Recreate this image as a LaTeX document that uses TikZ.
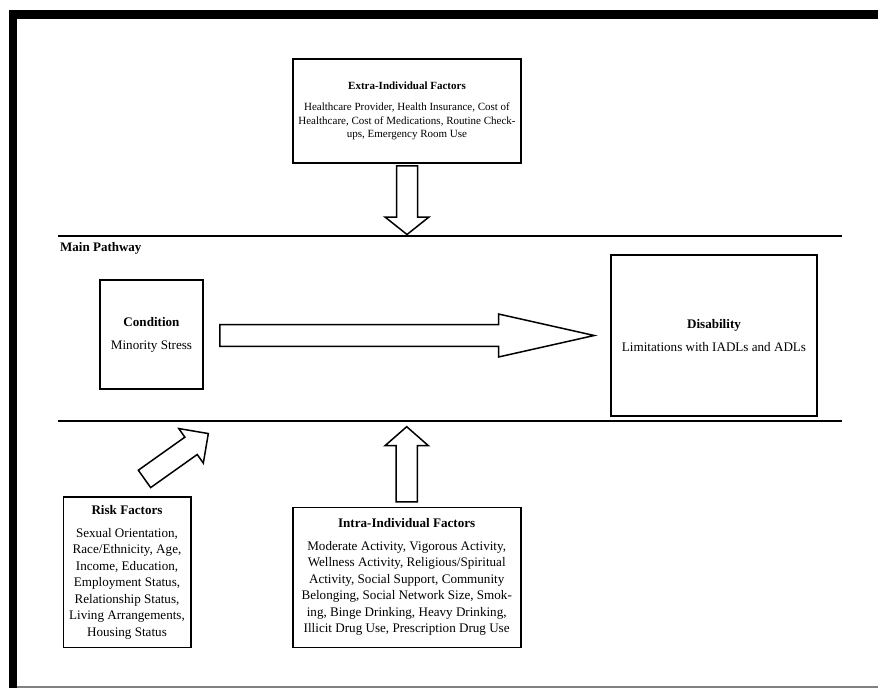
\documentclass[tikz,border=0pt]{standalone}
\usepackage{fontspec}
\setmainfont{Liberation Serif}
\usetikzlibrary{calc}
\newcommand\myBody{\fontsize{13.1}{16.5}\selectfont}
\newcommand\mySmall{\fontsize{11}{13.3}\selectfont}
\begin{document}
\begin{tikzpicture}[x=1pt,y=-1pt,
  box/.style={draw, line width=1.6pt, inner sep=0pt, align=center, font=\myBody},
  smallbox/.style={box, font=\mySmall},
  blockarrow/.style={draw, line width=1.5pt, fill=white, line join=miter},
  pathline/.style={line width=1.6pt},
  frameband/.style={fill=black}]
\useasboundingbox (0,0) rectangle (878,688);
% frame
\fill[frameband] (9,10) rectangle (878,19);
\fill[frameband] (9,10) rectangle (17,688);
\draw[gray, line width=1.2pt] (17,687) -- (878,687);

% main pathway lines
\coordinate (tlL) at (58,236);
\coordinate (tlR) at (842,236);
\coordinate (blL) at (58,421);
\coordinate (blR) at (842,421);
\draw[pathline] (tlL) -- (tlR);
\draw[pathline] (blL) -- (blR);
\node[anchor=base west, inner sep=0pt, font=\fontsize{13}{15}\selectfont\bfseries] (mainlabel) at (60,251) {Main Pathway};

% boxes
\node[smallbox, minimum width=228, minimum height=104] (extra) at (407,111)
  {\textbf{Extra-Individual Factors}\\[7.7pt]
   Healthcare Provider, Health Insurance, Cost of\\
   Healthcare, Cost of Medications, Routine Check-\\
   ups, Emergency Room Use};
\node[box, minimum width=103, minimum height=109] (cond) at (151.5,334.5)
  {\textbf{Condition}\\[6.5pt]Minority Stress};
\node[box, minimum width=206, minimum height=161] (dis) at (714,335.5)
  {\textbf{Disability}\\[6.5pt]Limitations with IADLs and ADLs};
\node[box, minimum width=127.4, minimum height=150.6] (risk) at (127,572)
  {\textbf{Risk Factors}\\[6.5pt]
   Sexual Orientation,\\
   Race/Ethnicity, Age,\\
   Income, Education,\\
   Employment Status,\\
   Relationship Status,\\
   Living Arrangements,\\
   Housing Status};
\node[box, minimum width=228, minimum height=140] (intra) at (406.7,577.3)
  {\textbf{Intra-Individual Factors}\\[6pt]
   Moderate Activity, Vigorous Activity,\\
   Wellness Activity, Religious/Spiritual\\
   Activity, Social Support, Community\\
   Belonging, Social Network Size, Smok-\\
   ing, Binge Drinking, Heavy Drinking,\\
   Illicit Drug Use, Prescription Drug Use};

% horizontal block arrow: condition -> disability
\coordinate (h0) at ($(cond.east)+(16,1)$);
\coordinate (h1) at ($(dis.west)+(-16,0)$);
\draw[blockarrow] ($(h0)+(0,-10.8)$) -- ($(h1)+(-95.7,-10.8)$) -- ($(h1)+(-95.7,-21.5)$)
  -- (h1) -- ($(h1)+(-95.7,21.5)$) -- ($(h1)+(-95.7,10.8)$) -- ($(h0)+(0,10.8)$) -- cycle;

% down block arrow: extra -> main pathway
\coordinate (d0) at ($(extra.south)+(0,2)$);
\coordinate (d1) at ($(extra.south |- tlL)+(0,-1.5)$);
\draw[blockarrow] ($(d0)+(-10.5,0)$) -- ($(d1)+(-10.5,-17.5)$) -- ($(d1)+(-22,-17.5)$)
  -- (d1) -- ($(d1)+(22,-17.5)$) -- ($(d1)+(10.5,-17.5)$) -- ($(d0)+(10.5,0)$) -- cycle;

% up block arrow: intra -> main pathway
\coordinate (u0) at ($(intra.north)+(0,-4.6)$);
\coordinate (u1) at ($(intra.north |- blL)+(0,5.7)$);
\draw[blockarrow] ($(u0)+(-10.7,0)$) -- ($(u1)+(-10.7,19)$) -- ($(u1)+(-21.7,19)$)
  -- (u1) -- ($(u1)+(21.7,19)$) -- ($(u1)+(10.7,19)$) -- ($(u0)+(10.7,0)$) -- cycle;

% diagonal block arrow: risk -> main pathway
\begin{scope}[shift={($(risk.north)+(17.5,-17)$)}, rotate=35.4]
  \coordinate (r0) at (0,0);
  \coordinate (r1) at (78.3,0);
  \draw[blockarrow] ($(r0)+(0,-10.65)$) -- ($(r0)+(57.1,-10.65)$) -- ($(r0)+(57.1,-21.2)$)
    -- (r1) -- ($(r0)+(57.1,21.2)$) -- ($(r0)+(57.1,10.65)$) -- ($(r0)+(0,10.65)$) -- cycle;
\end{scope}
\end{tikzpicture}
\end{document}
